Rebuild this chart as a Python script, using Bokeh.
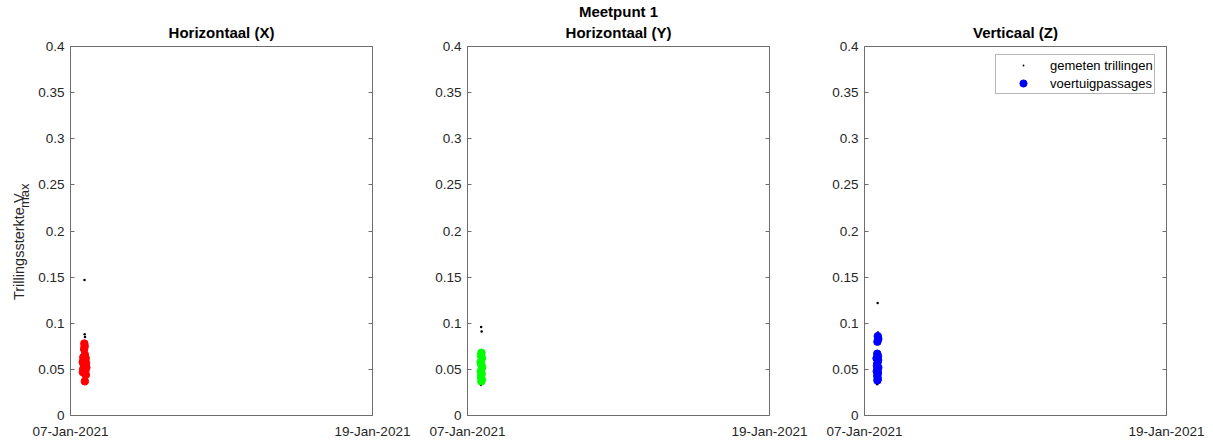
import math
import pandas as pd
from bokeh.plotting import figure
from bokeh.layouts import row
from bokeh.models import Range1d, FixedTicker, LinearAxis, CustomJSTickFormatter, Title
from bokeh.core.properties import value
from bokeh.embed import file_html
from bokeh.resources import INLINE

# ---------------- data ----------------
start_date = "2021-01-07"
end_date = "2021-01-19"
x_tick_labels = ["07-Jan-2021", "19-Jan-2021"]
y_ticks = [0, 0.05, 0.1, 0.15, 0.2, 0.25, 0.3, 0.35, 0.4]
titles = ["Horizontaal (X)", "Horizontaal (Y)", "Verticaal (Z)"]
suptitle = "Meetpunt 1"
y_label = "Trillingssterkte V"
y_label_sub = "max"
legend_labels = ["gemeten trillingen", "voertuigpassages"]
pass_colors = ["#ff0000", "#00ff00", "#0000ff"]

# Horizontaal (X)
x_meas_time = ["2021-01-07 13:20", "2021-01-07 13:30", "2021-01-07 13:50",
               "2021-01-07 12:20", "2021-01-07 12:50", "2021-01-07 13:10"]
x_meas_val = [0.147, 0.088, 0.085, 0.043, 0.041, 0.040]
x_pass_time = ["2021-01-07 13:10", "2021-01-07 13:30", "2021-01-07 13:00", "2021-01-07 13:40",
               "2021-01-07 12:10", "2021-01-07 14:30", "2021-01-07 13:20", "2021-01-07 11:40",
               "2021-01-07 14:50", "2021-01-07 12:40", "2021-01-07 13:50", "2021-01-07 15:10",
               "2021-01-07 12:00", "2021-01-07 14:10", "2021-01-07 13:00", "2021-01-07 11:50",
               "2021-01-07 14:40", "2021-01-07 13:40"]
x_pass_val = [0.078, 0.075, 0.072, 0.066, 0.063, 0.062, 0.060, 0.058, 0.057, 0.055,
              0.053, 0.052, 0.050, 0.048, 0.046, 0.047, 0.044, 0.037]

# Horizontaal (Y)
y_meas_time = ["2021-01-07 13:00", "2021-01-07 13:30", "2021-01-07 12:50", "2021-01-07 13:40"]
y_meas_val = [0.096, 0.091, 0.033, 0.035]
y_pass_time = ["2021-01-07 13:20", "2021-01-07 12:50", "2021-01-07 13:50", "2021-01-07 12:30",
               "2021-01-07 13:10", "2021-01-07 14:00", "2021-01-07 12:40", "2021-01-07 13:30",
               "2021-01-07 12:50", "2021-01-07 13:40", "2021-01-07 13:10"]
y_pass_val = [0.068, 0.065, 0.062, 0.058, 0.055, 0.052, 0.048, 0.045, 0.042, 0.039, 0.037]

# Verticaal (Z)
z_meas_time = ["2021-01-07 12:30", "2021-01-07 12:50", "2021-01-07 12:00", "2021-01-07 12:40"]
z_meas_val = [0.122, 0.090, 0.034, 0.036]
z_pass_time = ["2021-01-07 12:40", "2021-01-07 13:10", "2021-01-07 12:20", "2021-01-07 12:10",
               "2021-01-07 12:50", "2021-01-07 11:30", "2021-01-07 13:00", "2021-01-07 12:20",
               "2021-01-07 11:50", "2021-01-07 13:10", "2021-01-07 12:30", "2021-01-07 11:40",
               "2021-01-07 12:50", "2021-01-07 12:10", "2021-01-07 12:40", "2021-01-07 12:20"]
z_pass_val = [0.086, 0.083, 0.080, 0.067, 0.064, 0.062, 0.060, 0.057, 0.054, 0.052,
              0.050, 0.048, 0.046, 0.043, 0.040, 0.038]

# ---------------- styling ----------------
FONT = "Liberation Sans"
TXT = "#262626"
FRAME = "#6e6e6e"
TOP, FRAME_H, BOTTOM = 46, 369, 26
FRAME_W = 302
H = TOP + FRAME_H + BOTTOM
LABEL_W = 32

t0 = pd.Timestamp(start_date)


def days(ts):
    return [(pd.Timestamp(t) - t0) / pd.Timedelta(days=1) for t in ts]


span = days([end_date])[0]
x_tick_pos = [0.0, span]


def style_title(t, standoff):
    t.align = "center"
    t.text_font = FONT
    t.text_font_size = "15px"
    t.text_font_style = "bold"
    t.text_color = "black"
    t.standoff = standoff


def make_panel(title, L, R, meas_t, meas_v, pass_t, pass_v, color, legend=False):
    p = figure(width=L + FRAME_W + R, height=H,
               x_range=Range1d(0, span), y_range=Range1d(0, 0.4),
               output_backend="svg", toolbar_location=None,
               min_border_left=L, min_border_right=R,
               min_border_top=TOP, min_border_bottom=BOTTOM, title=title)
    p.background_fill_color = "white"
    p.border_fill_color = "white"
    p.outline_line_color = FRAME
    p.outline_line_width = 1
    p.grid.visible = False
    style_title(p.title, 12)

    xa = p.xaxis[0]
    xa.ticker = FixedTicker(ticks=x_tick_pos)
    xa.formatter = CustomJSTickFormatter(
        args=dict(lbls=x_tick_labels, pos=x_tick_pos),
        code="const i = pos.indexOf(tick); return i >= 0 ? lbls[i] : '';")
    xa.major_tick_in = 0
    xa.major_tick_out = 0
    xa.minor_tick_line_color = None
    xa.axis_line_color = FRAME
    xa.major_label_text_font = FONT
    xa.major_label_text_font_size = "13.5px"
    xa.major_label_text_color = TXT
    xa.major_label_standoff = 8

    ya = p.yaxis[0]
    ya.ticker = FixedTicker(ticks=y_ticks)
    ya.formatter = CustomJSTickFormatter(code="return String(Math.round(tick*100)/100);")
    ya.major_tick_in = 4
    ya.major_tick_out = 0
    ya.major_tick_line_color = FRAME
    ya.minor_tick_line_color = None
    ya.axis_line_color = FRAME
    ya.major_label_text_font = FONT
    ya.major_label_text_font_size = "13.5px"
    ya.major_label_text_color = TXT
    ya.major_label_standoff = 6

    ra = LinearAxis(ticker=FixedTicker(ticks=y_ticks),
                    formatter=CustomJSTickFormatter(code="return '';"),
                    major_tick_in=4, major_tick_out=0, major_tick_line_color=FRAME,
                    minor_tick_line_color=None, axis_line_color=FRAME,
                    major_label_standoff=0)
    p.add_layout(ra, "right")

    kw1 = dict(legend_label=legend_labels[0]) if legend else {}
    kw2 = dict(legend_label=legend_labels[1]) if legend else {}
    p.scatter(days(meas_t), meas_v, size=10, color="black", marker="dot", **kw1)
    p.scatter(days(pass_t), pass_v, size=7.5, color=color, marker="circle", **kw2)

    if legend:
        lg = p.legend[0]
        lg.location = (131, 321)
        lg.padding = 1
        lg.spacing = -4
        lg.margin = 0
        lg.glyph_width = 52
        lg.glyph_height = 18
        lg.label_height = 14
        lg.label_standoff = 1
        lg.label_text_font = FONT
        lg.label_text_font_size = "13px"
        lg.label_text_color = "black"
        lg.border_line_color = FRAME
        lg.border_line_width = 1
        lg.background_fill_color = "white"
        lg.background_fill_alpha = 1
    return p


# narrow strip holding the rotated y-axis label (coordinates = pixels, y from bottom)
lab = figure(width=LABEL_W, height=H, x_range=Range1d(0, LABEL_W), y_range=Range1d(0, H),
             output_backend="svg", toolbar_location=None, x_axis_location=None,
             y_axis_location=None, min_border=0)
lab.outline_line_color = None
lab.grid.visible = False
lab.background_fill_color = "white"
lab.border_fill_color = "white"
lab.text(x=[18], y=[H - 303], text=[y_label], angle=math.pi / 2, text_align="left",
         text_baseline="alphabetic", text_font=value(FONT), text_font_size="14.5px",
         text_color=TXT)
lab.text(x=[24], y=[H - 193], text=[y_label_sub], angle=math.pi / 2, text_align="left",
         text_baseline="alphabetic", text_font=value(FONT), text_font_size="13px",
         text_color=TXT)

p1 = make_panel(titles[0], 70 - LABEL_W, 39, x_meas_time, x_meas_val, x_pass_time, x_pass_val, pass_colors[0])
p2 = make_panel(suptitle, 56, 39, y_meas_time, y_meas_val, y_pass_time, y_pass_val, pass_colors[1])
p3 = make_panel(titles[2], 56, 39, z_meas_time, z_meas_val, z_pass_time, z_pass_val, pass_colors[2], legend=True)

# panel subtitle directly above the middle frame (the figure title sits above it)
sub = Title(text=titles[1])
style_title(sub, 12)
p2.title.standoff = -8
p2.add_layout(sub, "above")

layout = row(lab, p1, p2, p3)
open("out.html", "w").write(file_html(layout, INLINE))
